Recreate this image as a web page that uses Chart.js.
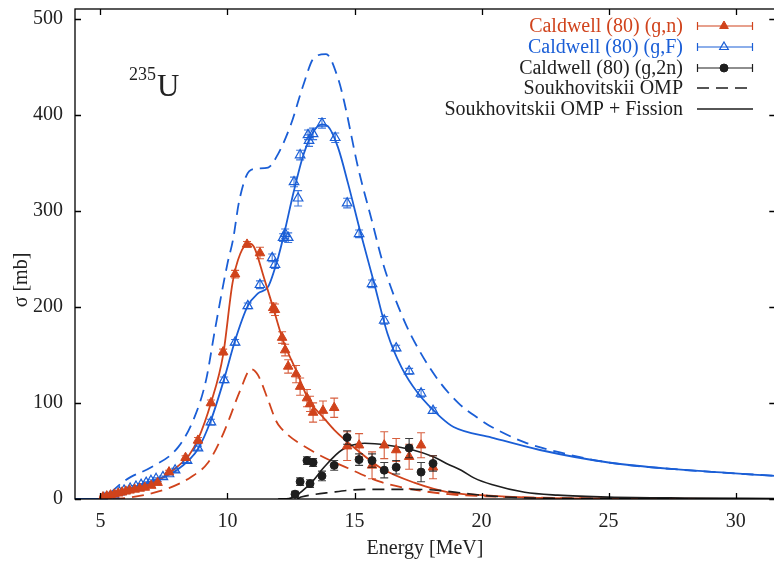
<!DOCTYPE html>
<html><head><meta charset="utf-8">
<script src="https://cdn.jsdelivr.net/npm/chart.js@4/dist/chart.umd.min.js"></script>
<style>
html,body{margin:0;padding:0;overflow:hidden;background:#fff;width:774px;height:564px}
#wrap{position:absolute;left:0;top:0;width:783px;height:564px}
</style>
</head><body><div id="wrap"><canvas id="c" width="783" height="564"></canvas></div>
<script>
// ---- data ----
const xTicks = [5, 10, 15, 20, 25, 30];
const yTicks = [0, 100, 200, 300, 400, 500];

// Caldwell (80) (g,n)
const gnE   = [5.1,5.25,5.4,5.55,5.7,5.85,6.0,6.15,6.35,6.55,6.75,7.0,7.25,7.7,8.35,8.84,9.35,9.83,10.3,10.77,11.28,11.8,11.87,12.15,12.27,12.39,12.7,12.86,13.13,13.25,13.37,13.76,14.2,14.71,15.18,15.69,16.17,16.64,17.15,17.62,18.09];
const gnS   = [2,3,4,5,6,7,8,9,10,11,12,14,17,28,43,61,100,153,234,265,256,199,197,168,155,138,130,117,105,99,90,92,95,55,56,35,56,51,44,56,33];
const gnErr = [1,1,1,1,1,1,1,1,1,1,1,1,1,2,2,3,3,3,4,3,6,5,6,6,6,7,9,9,9,8,10,10,10,15,12,14,14,12,13,13,12];

// Caldwell (80) (g,F)
const gfE   = [5.14,5.35,5.54,5.75,5.93,6.17,6.4,6.6,6.8,6.99,7.19,7.46,7.7,7.94,8.41,8.84,9.35,9.87,10.3,10.8,11.28,11.76,11.87,12.19,12.27,12.39,12.62,12.78,12.86,13.17,13.21,13.37,13.72,14.24,14.71,15.18,15.69,16.17,16.64,17.15,17.62,18.09];
const gfS   = [1,2,4,7,9,11,13,15,17,19,21,23,26,30,40,53,80,124,163,201,223,251,244,272,276,272,330,313,358,379,373,380,391,376,308,276,224,186,157,133,110,92];
const gfErr = [1,1,1,1,1,1,1,1,1,1,1,1,1,2,2,2,3,3,3,3,4,4,4,4,5,5,5,8,5,5,6,6,5,5,5,4,4,4,3,3,4,3];

// Caldwell (80) (g,2n)
const g2nE   = [12.66,12.86,13.13,13.25,13.37,13.72,14.2,14.71,15.18,15.69,16.17,16.64,17.15,17.62,18.09];
const g2nS   = [5,18,40,16,38,24,35,64,41,40,30,33,53,28,37];
const g2nErr = [3,4,4,4,4,5,5,7,6,7,8,7,10,10,8];

// Soukhovitskii OMP (dashed) and OMP + Fission (solid) curves
const ompFE = [4.0,5.0,5.2,5.5,5.9,6.2,7.0,8.06,8.7,9.16,9.5,10.0,10.22,10.46,10.85,11.2,11.6,11.99,12.5,13.0,13.4,13.88,14.35,14.59,15.14,15.65,16.17,16.95,17.54,18.29,19.08,19.87,20.4,21.7,23.0,25.0,27.6,31.6];
const ompFS = [0,0,2,9,18,23,33,54,85,124,175,245,270,310,341,344,345,359,390,432,459,463,438,414,345,293,241,186,155,124,100,84,75,59,49,38,31,24];
const fisFE = [4.0,5.0,5.5,6.0,6.5,7.0,7.5,8.0,8.5,8.84,9.35,9.87,10.3,10.8,11.2,11.6,12.0,12.23,12.6,13.0,13.4,13.72,13.95,14.35,14.75,15.25,15.75,16.3,16.85,17.5,18.4,18.9,20.4,22.3,25.0,27.6,31.6];
const fisFS = [0,0,4,9,13,18,23,30,41,52,82,125,165,201,214,221,252,276,319,359,383,390,388,366,328,276,227,172,137,110,85,75,64,51,38,31,24];

const ompNE = [5.5,6.0,6.7,7.66,8.57,9.24,9.75,10.05,10.5,10.93,11.2,11.6,11.9,12.1,13.4,14.75,16.0,17.3,18.7,20.0,22.0,25.0,31.6];
const ompNS = [0,1,4,11,23,38,63,82,113,135,129,103,82,74,49,32,18,10,5,3,1.5,0.5,0];
const fisNE = [5.0,5.5,6.0,6.5,7.0,7.5,8.0,8.5,8.84,9.35,9.83,10.2,10.5,10.85,11.05,11.44,11.8,12.19,12.7,13.2,13.8,14.2,15.1,16.05,17.35,18.7,20.0,22.0,25.0,31.6];
const fisNS = [0,4,8,12,16,23,33,46,62,100,150,225,255,266,262,230,199,165,134,103,84,72,51,32,17,7,4,1.5,0.5,0];

const omp2E = [12.0,12.7,12.9,14.1,15.4,17.3,18.3,19.3,20.4,21.5,23.0,31.6];
const omp2S = [0,0,2,7,10,10,9,6,3,1.5,0.7,0];
const fis2E = [12.0,12.2,12.6,13.3,13.8,14.5,15.4,16.3,17.3,18.1,18.7,19.2,19.7,20.4,21.7,23.0,25.0,28.0,31.6];
const fis2S = [0,0,2,17,33,51,58,56,51,44,36,30,22,15,7,4,2,1,0.5];

const legendLabels = ['Caldwell (80) (\u0261,n)','Caldwell (80) (\u0261,F)','Caldwell (80) (\u0261,2n)','Soukhovitskii OMP','Soukhovitskii OMP + Fission'];

// ---- styles ----
const RED = '#d0431c', BLUE = '#1a5ed6', BLACK = '#1e1e1e';
const SERIF = '"Liberation Serif","DejaVu Serif",serif';
const pts = (xs, ys) => xs.map((x, i) => ({x, y: ys[i]}));

const datasets = [
  {label:'g2n', data:pts(g2nE,g2nS), errs:g2nErr, showLine:false, pointStyle:'circle', pointRadius:4, backgroundColor:BLACK, borderColor:BLACK, borderWidth:1, errColor:BLACK},
  {label:'gn', data:pts(gnE,gnS), errs:gnErr, showLine:false, pointStyle:'triangle', pointRadius:5.5, backgroundColor:RED, borderColor:RED, borderWidth:1, errColor:RED},
  {label:'gf', data:pts(gfE,gfS), errs:gfErr, showLine:false, pointStyle:'triangle', pointRadius:5.5, backgroundColor:'rgba(255,255,255,0)', borderColor:BLUE, borderWidth:1.2, errColor:BLUE},
  {data:pts(fis2E,fis2S), showLine:true, pointRadius:0, borderColor:BLACK, borderWidth:1.6, cubicInterpolationMode:'monotone'},
  {data:pts(omp2E,omp2S), showLine:true, pointRadius:0, borderColor:BLACK, borderWidth:1.6, borderDash:[12,7], cubicInterpolationMode:'monotone'},
  {data:pts(fisNE,fisNS), showLine:true, pointRadius:0, borderColor:RED, borderWidth:1.8, cubicInterpolationMode:'monotone'},
  {data:pts(ompNE,ompNS), showLine:true, pointRadius:0, borderColor:RED, borderWidth:1.8, borderDash:[12,7], cubicInterpolationMode:'monotone'},
  {data:pts(fisFE,fisFS), showLine:true, pointRadius:0, borderColor:BLUE, borderWidth:1.8, cubicInterpolationMode:'monotone'},
  {data:pts(ompFE,ompFS), showLine:true, pointRadius:0, borderColor:BLUE, borderWidth:1.8, borderDash:[12,7], cubicInterpolationMode:'monotone'}
];

const deco = {
  id:'deco',
  beforeDatasetDraw(chart, args) {
    const ds = chart.data.datasets[args.index];
    if (!ds.errs) return;
    const ctx = chart.ctx, xs = chart.scales.x, ys = chart.scales.y;
    ctx.save();
    ctx.strokeStyle = ds.errColor; ctx.lineWidth = 1.1; ctx.globalAlpha = 0.85;
    ds.data.forEach((p, i) => {
      const px = xs.getPixelForValue(p.x);
      const y1 = ys.getPixelForValue(Math.max(0, p.y - ds.errs[i]));
      const y2 = ys.getPixelForValue(p.y + ds.errs[i]);
      ctx.beginPath();
      ctx.moveTo(px, y1); ctx.lineTo(px, y2);
      ctx.moveTo(px - 4, y1); ctx.lineTo(px + 4, y1);
      ctx.moveTo(px - 4, y2); ctx.lineTo(px + 4, y2);
      ctx.stroke();
    });
    ctx.restore();
  },
  afterDraw(chart) {
    const ctx = chart.ctx, a = chart.chartArea, xs = chart.scales.x, ys = chart.scales.y;
    ctx.save();
    // frame
    ctx.strokeStyle = '#000'; ctx.lineWidth = 1.3;
    ctx.strokeRect(a.left, a.top, a.right - a.left, a.bottom - a.top);
    // ticks
    ctx.beginPath();
    xTicks.forEach(v => {
      const px = Math.round(xs.getPixelForValue(v)) + 0.5;
      ctx.moveTo(px, a.bottom); ctx.lineTo(px, a.bottom - 6);
      ctx.moveTo(px, a.top); ctx.lineTo(px, a.top + 6);
    });
    yTicks.forEach(v => {
      const py = Math.round(ys.getPixelForValue(v)) + 0.5;
      ctx.moveTo(a.left, py); ctx.lineTo(a.left + 6, py);
      ctx.moveTo(a.right, py); ctx.lineTo(a.right - 7, py);
    });
    ctx.stroke();
    // axis titles
    ctx.fillStyle = '#222';
    ctx.font = '20px ' + SERIF;
    ctx.textAlign = 'center'; ctx.textBaseline = 'middle';
    ctx.fillText('Energy [MeV]', 425, 549);
    ctx.save();
    ctx.translate(22, 280); ctx.rotate(-Math.PI / 2);
    ctx.fillText('\u03c3 [mb]', 0, 0);
    ctx.restore();
    // 235U label
    ctx.textAlign = 'left'; ctx.textBaseline = 'alphabetic';
    ctx.font = '18px ' + SERIF;
    ctx.fillText('235', 129, 80);
    ctx.font = '31px ' + SERIF;
    ctx.fillText('U', 157, 96);
    // legend
    const rows = [26, 47, 68, 88, 109];
    const colors = [RED, BLUE, BLACK, BLACK, BLACK];
    ctx.font = '20px ' + SERIF;
    ctx.textAlign = 'right'; ctx.textBaseline = 'middle';
    legendLabels.forEach((t, i) => {
      const y = rows[i];
      ctx.fillStyle = colors[i];
      ctx.fillText(t, 683, y + 1);
      ctx.strokeStyle = colors[i]; ctx.lineWidth = i < 3 ? 1.2 : 1.6;
      ctx.setLineDash(i === 3 ? [12, 7] : []);
      ctx.beginPath();
      ctx.moveTo(697, y); ctx.lineTo(753, y);
      if (i < 3) {
        ctx.moveTo(697.5, y - 4); ctx.lineTo(697.5, y + 4);
        ctx.moveTo(752.5, y - 4); ctx.lineTo(752.5, y + 4);
      }
      ctx.stroke();
      ctx.setLineDash([]);
      if (i < 3) {
        const d = chart.data.datasets[[1, 2, 0][i]];
        ctx.fillStyle = d.backgroundColor; ctx.strokeStyle = d.borderColor; ctx.lineWidth = d.borderWidth;
        ctx.beginPath();
        if (d.pointStyle === 'circle') ctx.arc(724, y, d.pointRadius, 0, Math.PI * 2);
        else {
          const r = 5;
          ctx.moveTo(724, y - r); ctx.lineTo(724 + r * 0.866, y + r * 0.5); ctx.lineTo(724 - r * 0.866, y + r * 0.5); ctx.closePath();
        }
        ctx.fill(); ctx.stroke();
      }
    });
    ctx.restore();
  }
};

const noPad = s => { s.paddingTop = 0; s.paddingBottom = 0; s.paddingLeft = 0; s.paddingRight = 0; };

new Chart(document.getElementById('c'), {
  type: 'scatter',
  data: {datasets},
  options: {
    responsive: false, animation: false, devicePixelRatio: 1,
    layout: {padding: {left: 0, right: 3, top: 9, bottom: 0}},
    plugins: {legend: {display: false}, tooltip: {enabled: false}},
    scales: {
      x: {type: 'linear', min: 4, max: 31.6,
          afterBuildTicks: s => { s.ticks = xTicks.map(v => ({value: v})); },
          afterFit: s => { s.height = 65; noPad(s); },
          grid: {display: false, drawTicks: false}, border: {display: false},
          ticks: {font: {family: SERIF, size: 20}, color: '#222', padding: 11, maxRotation: 0, autoSkip: false}},
      y: {type: 'linear', min: 0, max: 510,
          afterBuildTicks: s => { s.ticks = yTicks.map(v => ({value: v})); },
          afterFit: s => { s.width = 75; noPad(s); },
          grid: {display: false, drawTicks: false}, border: {display: false},
          ticks: {font: {family: SERIF, size: 20}, color: '#222', padding: 12, autoSkip: false}}
    }
  },
  plugins: [deco]
});
</script></body></html>
